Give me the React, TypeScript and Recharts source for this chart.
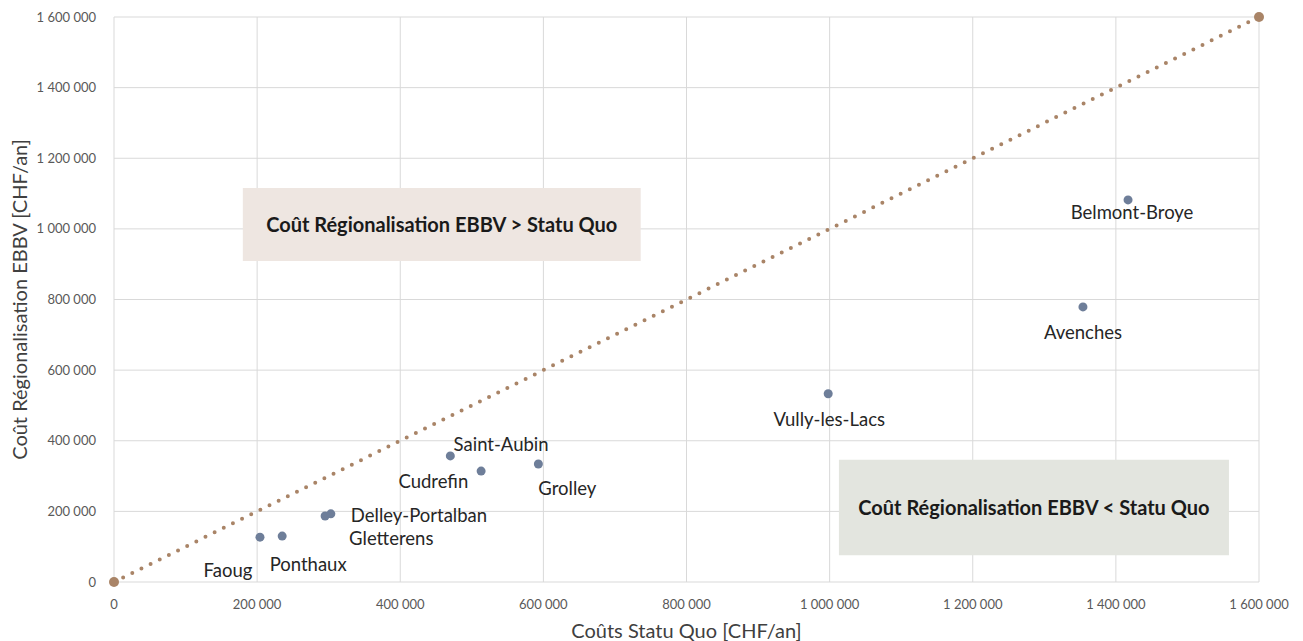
import React from "react"
import { CartesianGrid, Label, ReferenceArea, Scatter, ScatterChart, XAxis, YAxis } from "recharts"

const communes = ["Faoug", "Ponthaux", "Gletterens", "Delley-Portalban", "Cudrefin", "Saint-Aubin", "Grolley", "Vully-les-Lacs", "Avenches", "Belmont-Broye"]
const statuQuo = [204000, 235000, 295000, 303000, 470000, 513000, 593000, 998000, 1354000, 1417000]
const regionalisation = [127000, 130000, 187000, 193000, 357000, 314000, 334000, 533000, 779000, 1082000]
const diagonalValues = [0, 1600000]
const axisTicks = [0, 200000, 400000, 600000, 800000, 1000000, 1200000, 1400000, 1600000]

const points = communes.map((name, i) => ({ name, x: statuQuo[i], y: regionalisation[i] }))
const diagonal = diagonalValues.map((v) => ({ x: v, y: v }))

// label offsets from the point centre (dx, dy, anchor)
const labelPlacement: Record<string, [number, number, "start" | "middle"]> = {
  Faoug: [-32, 40, "middle"],
  Ponthaux: [26, 35, "middle"],
  Gletterens: [24, 29, "start"],
  "Delley-Portalban": [20, 8, "start"],
  Cudrefin: [-17, 32, "middle"],
  "Saint-Aubin": [20, -20, "middle"],
  Grolley: [29, 31, "middle"],
  "Vully-les-Lacs": [1, 32, "middle"],
  Avenches: [0, 32, "middle"],
  "Belmont-Broye": [4, 19, "middle"],
}

const fmt = (v: number) => String(v).replace(/\B(?=(\d{3})+(?!\d))/g, " ")
const font = "Lato, 'Noto Sans', sans-serif"

const PointShape = (props: any) => {
  const { cx, cy, payload } = props
  const [dx, dy, anchor] = labelPlacement[payload.name] || [0, 20, "middle"]
  return (
    <g>
      <circle cx={cx} cy={cy} r={4.5} fill="#6E7E99" />
      <text x={cx + dx} y={cy + dy} textAnchor={anchor} fontSize={18.5} fill="#262626" fontFamily={font}>
        {payload.name}
      </text>
    </g>
  )
}

const EndDot = (props: any) => <circle cx={props.cx} cy={props.cy} r={5} fill="#A98467" />

export default function App() {
  return (
    <div style={{ position: "absolute", left: 0, top: 0, width: 1303, height: 641, background: "#fff" }}>
      <ScatterChart width={1303} height={641} margin={{ top: 17, right: 44, bottom: 29, left: 34 }}>
        <CartesianGrid stroke="#D9D9D9" />
        <XAxis
          type="number"
          dataKey="x"
          domain={[0, 1600000]}
          ticks={axisTicks}
          tickFormatter={fmt}
          axisLine={false}
          tickLine={false}
          height={30}
          tickMargin={12}
          tick={{ fontSize: 13, fill: "#595959", fontFamily: font }}
        >
          <Label value="Coûts Statu Quo [CHF/an]" position="bottom" offset={12} style={{ fontSize: 20, fill: "#404040", fontFamily: font }} />
        </XAxis>
        <YAxis
          type="number"
          dataKey="y"
          domain={[0, 1600000]}
          ticks={axisTicks}
          tickFormatter={fmt}
          axisLine={false}
          tickLine={false}
          width={80}
          tickMargin={12}
          tick={{ fontSize: 13, fill: "#595959", fontFamily: font }}
        >
          <Label
            value="Coût Régionalisation EBBV [CHF/an]"
            angle={-90}
            position="left"
            offset={14}
            style={{ fontSize: 20, fill: "#404040", fontFamily: font, textAnchor: "middle" }}
          />
        </YAxis>
        <ReferenceArea x1={180000} x2={736000} y1={909000} y2={1116000} fill="#EEE6E1" fillOpacity={1} stroke="none">
          <Label value="Coût Régionalisation EBBV > Statu Quo" position="center" style={{ fontSize: 20, fontWeight: 700, fill: "#1a1a1a", fontFamily: font }} />
        </ReferenceArea>
        <ReferenceArea x1={1013000} x2={1558000} y1={76000} y2={346000} fill="#E3E5DF" fillOpacity={1} stroke="none">
          <Label value="Coût Régionalisation EBBV < Statu Quo" position="center" style={{ fontSize: 20, fontWeight: 700, fill: "#1a1a1a", fontFamily: font }} />
        </ReferenceArea>
        <Scatter
          data={diagonal}
          fill="#A98467"
          shape={EndDot}
          line={{ stroke: "#A98467", strokeWidth: 4, strokeDasharray: "0 10.2", strokeLinecap: "round" }}
          isAnimationActive={false}
        />
        <Scatter data={points} fill="#6E7E99" shape={PointShape} isAnimationActive={false} />
      </ScatterChart>
    </div>
  )
}
